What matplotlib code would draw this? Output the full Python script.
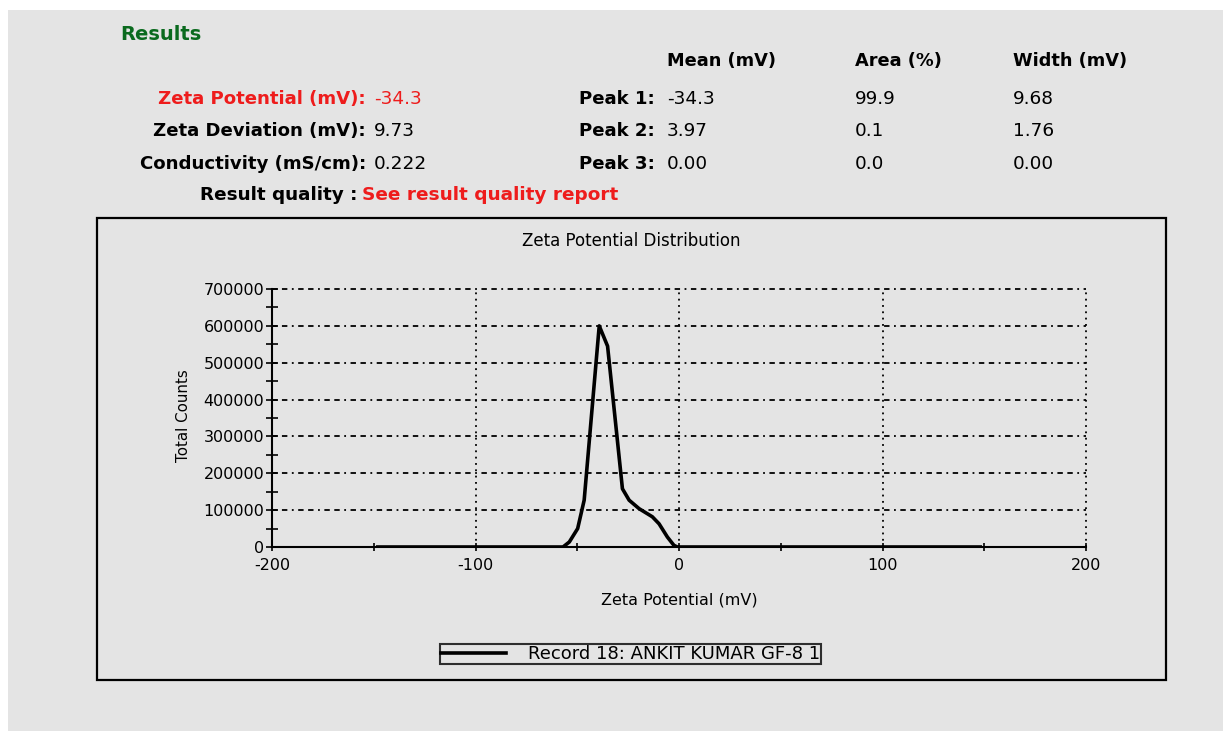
import matplotlib
matplotlib.use("Agg")
import matplotlib.pyplot as plt
from matplotlib.patches import Rectangle
from matplotlib.ticker import MultipleLocator, FuncFormatter

plt.rcParams['font.family'] = ['DejaVu Sans']
plt.rcParams['axes.unicode_minus'] = False

# ---- data ----
zeta_mv = [-148, -57, -53.9, -49.8, -46.6, -39.2, -35.1, -27.8, -24.5, -19.6,
           -13.1, -9.8, -5.7, -2.5, -0.8, 148]
total_counts = [0, 0, 13600, 50000, 127000, 600000, 545000, 158000, 127000, 104000,
                82000, 63000, 27000, 4500, 0, 0]

summary_labels = ['Zeta Potential (mV):', 'Zeta Deviation (mV):', 'Conductivity (mS/cm):']
summary_values = ['-34.3', '9.73', '0.222']
peak_labels = ['Peak 1:', 'Peak 2:', 'Peak 3:']
peak_mean = ['-34.3', '3.97', '0.00']
peak_area = ['99.9', '0.1', '0.0']
peak_width = ['9.68', '1.76', '0.00']
column_heads = ['Mean (mV)', 'Area (%)', 'Width (mV)']
record_name = 'Record 18: ANKIT KUMAR GF-8 1'

W, H = 1223, 731
BG = '#e4e4e4'
RED = '#ee1c1c'
GREEN = '#0a6a1e'


def fx(px):
    return px / W


def fy(py):
    return 1 - py / H


fig = plt.figure(figsize=(W / 100, H / 100), dpi=100)
fig.patch.set_facecolor('white')

# grey panel + chart frame
fig.patches.append(Rectangle((fx(8), 0), 1 - fx(8), fy(10), transform=fig.transFigure,
                             facecolor=BG, edgecolor='none', zorder=-10))
fig.patches.append(Rectangle((fx(97), fy(680)), fx(1166) - fx(97), fy(218) - fy(680),
                             transform=fig.transFigure, facecolor='none',
                             edgecolor='black', linewidth=1.6, zorder=-5))

# ---- header text ----
fig.text(fx(120), fy(34), 'Results', color=GREEN, fontsize=14, fontweight='bold', va='center')
col_x = [667, 855, 1013]
for x, t in zip(col_x, column_heads):
    fig.text(fx(x), fy(61), t, fontsize=12.8, fontweight='bold', va='center')

row_y = [99, 131, 164]
for i, y in enumerate(row_y):
    c = RED if i == 0 else 'black'
    fig.text(fx(366), fy(y), summary_labels[i], color=c, fontsize=13.1, fontweight='bold',
             ha='right', va='center')
    fig.text(fx(374), fy(y), summary_values[i], color=c, fontsize=13.3, va='center')
    fig.text(fx(655), fy(y), peak_labels[i], fontsize=13.1, fontweight='bold', ha='right', va='center')
    for x, vals in zip(col_x, [peak_mean, peak_area, peak_width]):
        fig.text(fx(x), fy(y), vals[i], fontsize=13.3, va='center')

fig.text(fx(357), fy(195), 'Result quality :', fontsize=13.2, fontweight='bold', ha='right', va='center')
fig.text(fx(362), fy(195), 'See result quality report', color=RED, fontsize=13.3,
         fontweight='bold', va='center')

fig.text(fx(631.5), fy(241), 'Zeta Potential Distribution', fontsize=12, ha='center', va='center')

# ---- plot ----
ax = fig.add_axes([fx(272), fy(547), fx(1086) - fx(272), fy(289) - fy(547)])
ax.set_facecolor('none')
ax.plot(zeta_mv, total_counts, color='black', linewidth=2.6, label=record_name, zorder=3)
ax.set_xlim(-200, 200)
ax.set_ylim(0, 700000)

ax.xaxis.set_major_locator(MultipleLocator(100))
ax.xaxis.set_minor_locator(MultipleLocator(50))
ax.yaxis.set_major_locator(MultipleLocator(100000))
ax.yaxis.set_minor_locator(MultipleLocator(50000))
ax.xaxis.set_major_formatter(FuncFormatter(lambda v, p: '%d' % v))
ax.yaxis.set_major_formatter(FuncFormatter(lambda v, p: '%d' % v))

ax.tick_params(axis='y', which='both', direction='inout', length=9, width=1.2,
               labelsize=11.5, pad=1)
ax.tick_params(axis='x', which='both', direction='inout', length=6, width=1.2,
               labelsize=11.5, pad=5)

for s in ['top', 'right']:
    ax.spines[s].set_visible(False)
for s in ['left', 'bottom']:
    ax.spines[s].set_linewidth(1.5)

ax.yaxis.grid(True, color='black', linewidth=1.3, linestyle=(0, (3, 2.5, 3, 2.5, 1, 2.5)))
ax.xaxis.grid(True, color='black', linewidth=1.3, linestyle=(0, (1, 2.5)))
for gl in ax.get_xgridlines() + ax.get_ygridlines():
    gl.set_clip_on(False)

ax.set_ylabel('Total Counts', fontsize=10.8)
ax.yaxis.set_label_coords(-0.1, 0.508)
ax.set_xlabel('Zeta Potential (mV)', fontsize=11.5)
ax.xaxis.set_label_coords(0.5, -0.175)

leg = ax.legend(loc='center', bbox_to_anchor=(fx(630.5), fy(654)), bbox_transform=fig.transFigure,
                fontsize=13, frameon=True, fancybox=False, handlelength=3.6,
                handletextpad=1.2, borderpad=0.08, borderaxespad=0)
leg.get_frame().set_edgecolor('black')
leg.get_frame().set_linewidth(1.5)
leg.get_frame().set_facecolor(BG)

fig.savefig('out.png', dpi=100, facecolor=fig.get_facecolor())
